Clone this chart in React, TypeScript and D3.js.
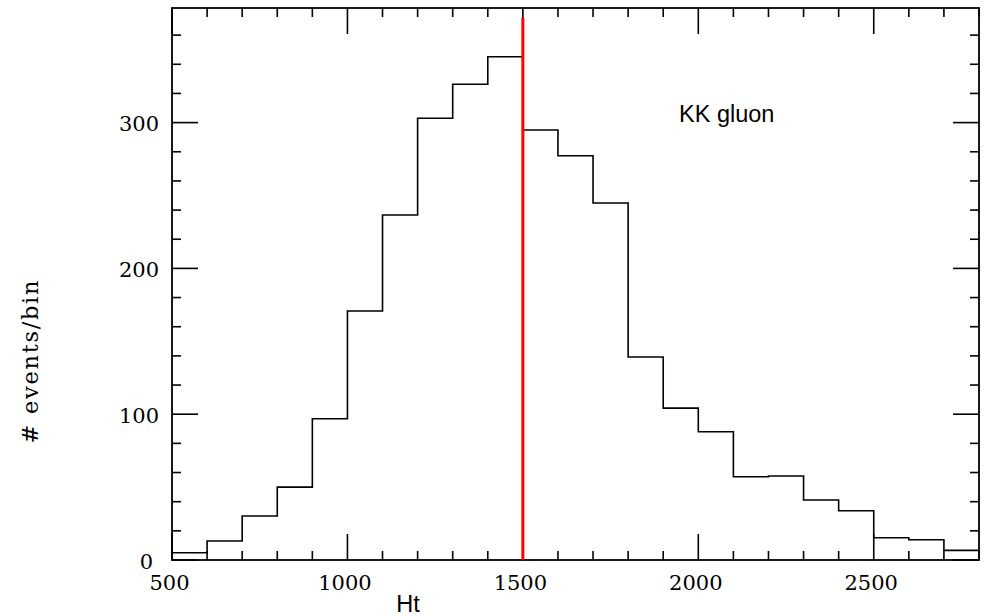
import React from "react";
import * as d3 from "d3";

const binStarts = [500, 600, 700, 800, 900, 1000, 1100, 1200, 1300, 1400, 1500, 1600, 1700, 1800, 1900, 2000, 2100, 2200, 2300, 2400, 2500, 2600, 2700];
const binWidth = 100;
const counts = [5, 13, 30.2, 50, 96.9, 170.8, 236.6, 303, 326.3, 345.2, 294.9, 277.3, 244.9, 139.2, 104.2, 88, 57.1, 57.6, 41.2, 33.8, 15.3, 13.9, 6.6];
const xMajorTicks = [500, 1000, 1500, 2000, 2500];
const yMajorTicks = [0, 100, 200, 300];
const cutValue = 1500;
const cutTop = 372;
const xTitle = "Ht";
const yTitle = "# events/bin";
const label = "KK gluon";

const W = 988, H = 616;
const L = 172, R = 979, T = 8, B = 560;

export default function App() {
  const x = d3.scaleLinear().domain([500, 2800]).range([L, R]);
  const y = d3.scaleLinear().domain([0, 378.6]).range([B, T]);

  const pts: [number, number][] = binStarts.map((s, i) => [s, counts[i]]);
  pts.push([binStarts[binStarts.length - 1] + binWidth, counts[counts.length - 1]]);
  const line = d3.line<[number, number]>().x(d => x(d[0])).y(d => y(d[1])).curve(d3.curveStepAfter);

  const xMinor = d3.range(500, 2801, 100).filter(v => !xMajorTicks.includes(v));
  const yMinor = d3.range(0, 379, 20).filter(v => !yMajorTicks.includes(v));
  const major = 26, minor = 9;
  const serif = "'DejaVu Serif', serif";
  const sans = "'Liberation Sans', Arial, sans-serif";

  return (
    <svg width={W} height={H} style={{ position: "absolute", left: 0, top: 0, background: "#fff" }}>
      <rect x={0} y={0} width={W} height={H} fill="#fff" />
      <g stroke="#000" strokeWidth={1.6} fill="none">
        {xMajorTicks.map(v => (
          <g key={"xm" + v}>
            <line x1={x(v)} x2={x(v)} y1={B} y2={B - major} />
            <line x1={x(v)} x2={x(v)} y1={T} y2={T + major} />
          </g>
        ))}
        {xMinor.map(v => (
          <g key={"xn" + v}>
            <line x1={x(v)} x2={x(v)} y1={B} y2={B - minor} />
            <line x1={x(v)} x2={x(v)} y1={T} y2={T + minor} />
          </g>
        ))}
        {yMajorTicks.map(v => (
          <g key={"ym" + v}>
            <line x1={L} x2={L + major} y1={y(v)} y2={y(v)} />
            <line x1={R} x2={R - major} y1={y(v)} y2={y(v)} />
          </g>
        ))}
        {yMinor.map(v => (
          <g key={"yn" + v}>
            <line x1={L} x2={L + minor} y1={y(v)} y2={y(v)} />
            <line x1={R} x2={R - minor} y1={y(v)} y2={y(v)} />
          </g>
        ))}
        <rect x={L} y={T} width={R - L} height={B - T} strokeWidth={1.8} />
        <path d={line(pts) || ""} strokeWidth={1.6} />
      </g>
      <line x1={x(cutValue)} x2={x(cutValue)} y1={y(0)} y2={y(cutTop)} stroke="#ff0000" strokeWidth={3} />
      <g fontFamily={serif} fontSize={21} fill="#000">
        {xMajorTicks.map(v => (
          <text key={"xl" + v} x={x(v) - 2.5} y={590} textAnchor="middle">{v}</text>
        ))}
        {yMajorTicks.map(v => (
          <text key={"yl" + v} x={v === 0 ? 153 : 159} y={y(v) + 8.5} textAnchor="end">{v}</text>
        ))}
      </g>
      <text x={408} y={612} textAnchor="middle" fontFamily={sans} fontSize={23.5}>{xTitle}</text>
      <text x={679} y={122} fontFamily={sans} fontSize={23.5}>{label}</text>
      <text transform="translate(38,362) rotate(-90)" textAnchor="middle" fontFamily={serif} fontSize={22.5} textLength={163} lengthAdjust="spacing">{yTitle}</text>
    </svg>
  );
}
